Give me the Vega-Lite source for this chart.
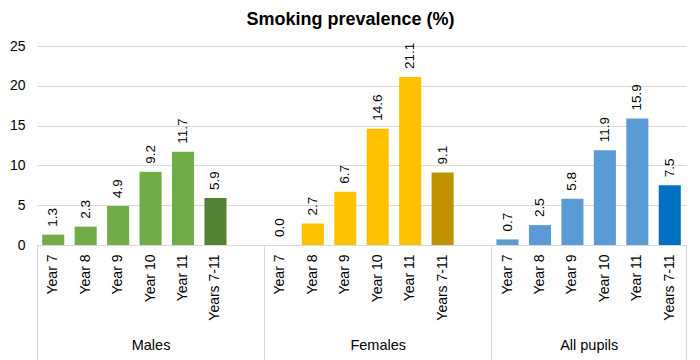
{
  "$schema": "https://vega.github.io/schema/vega-lite/v6.json",
  "autosize": {"type": "none"},
  "width": 649,
  "height": 199,
  "padding": {"left": 37, "top": 46, "right": 14, "bottom": 115},
  "background": "white",
  "config": {
    "view": {"stroke": null},
    "font": "Liberation Sans",
    "axis": {"labelFont": "Liberation Sans", "labelColor": "#000000"}
  },
  "title": {
    "text": "Smoking prevalence (%)",
    "fontSize": 18,
    "fontWeight": "bold",
    "font": "Liberation Sans",
    "color": "#000000",
    "anchor": "middle",
    "offset": 10,
    "dx": -11
  },
  "datasets": {
    "bars": [
      {"cat": "M|Year 7", "group": "Males", "kind": "Males", "value": 1.3},
      {"cat": "M|Year 8", "group": "Males", "kind": "Males", "value": 2.3},
      {"cat": "M|Year 9", "group": "Males", "kind": "Males", "value": 4.9},
      {"cat": "M|Year 10", "group": "Males", "kind": "Males", "value": 9.2},
      {"cat": "M|Year 11", "group": "Males", "kind": "Males", "value": 11.7},
      {"cat": "M|Years 7-11", "group": "Males", "kind": "Males total", "value": 5.9},
      {"cat": "F|Year 7", "group": "Females", "kind": "Females", "value": 0.0},
      {"cat": "F|Year 8", "group": "Females", "kind": "Females", "value": 2.7},
      {"cat": "F|Year 9", "group": "Females", "kind": "Females", "value": 6.7},
      {"cat": "F|Year 10", "group": "Females", "kind": "Females", "value": 14.6},
      {"cat": "F|Year 11", "group": "Females", "kind": "Females", "value": 21.1},
      {"cat": "F|Years 7-11", "group": "Females", "kind": "Females total", "value": 9.1},
      {"cat": "A|Year 7", "group": "All pupils", "kind": "All", "value": 0.7},
      {"cat": "A|Year 8", "group": "All pupils", "kind": "All", "value": 2.5},
      {"cat": "A|Year 9", "group": "All pupils", "kind": "All", "value": 5.8},
      {"cat": "A|Year 10", "group": "All pupils", "kind": "All", "value": 11.9},
      {"cat": "A|Year 11", "group": "All pupils", "kind": "All", "value": 15.9},
      {"cat": "A|Years 7-11", "group": "All pupils", "kind": "All total", "value": 7.5}
    ],
    "groups": [
      {"pos": 0}, {"pos": 3.5}, {"pos": 7}, {"pos": 10.5}, {"pos": 14}, {"pos": 17}, {"pos": 20}
    ]
  },
  "encoding": {
    "y": {
      "field": "value",
      "type": "quantitative",
      "scale": {"domain": [0, 25], "nice": false},
      "axis": {
        "title": null,
        "values": [0, 5, 10, 15, 20, 25],
        "labelOverlap": false,
        "domain": false,
        "ticks": false,
        "labelPadding": 12,
        "labelFontSize": 14,
        "gridColor": "#d9d9d9",
        "gridWidth": 1
      }
    }
  },
  "layer": [
    {
      "data": {"name": "bars"},
      "encoding": {
        "x": {
          "field": "cat",
          "type": "nominal",
          "sort": null,
          "scale": {
            "domain": ["M|Year 7", "M|Year 8", "M|Year 9", "M|Year 10", "M|Year 11", "M|Years 7-11", "gap1|",
                       "F|Year 7", "F|Year 8", "F|Year 9", "F|Year 10", "F|Year 11", "F|Years 7-11", "gap2|",
                       "A|Year 7", "A|Year 8", "A|Year 9", "A|Year 10", "A|Year 11", "A|Years 7-11"],
            "paddingInner": 0.32,
            "paddingOuter": 0.16
          },
          "axis": {
            "orient": "bottom",
            "title": null,
            "labelExpr": "split(datum.label, '|')[1]",
            "labelAngle": -90,
            "labelFontSize": 14,
            "labelPadding": 9,
            "ticks": false,
            "domainColor": "#d9d9d9",
            "domainWidth": 1,
            "grid": false
          }
        }
      },
      "layer": [
        {
          "mark": {"type": "bar"},
          "encoding": {
            "color": {
              "field": "kind",
              "type": "nominal",
              "scale": {
                "domain": ["Males", "Males total", "Females", "Females total", "All", "All total"],
                "range": ["#70AD47", "#548235", "#FFC000", "#BF9000", "#5B9BD5", "#0070C0"]
              },
              "legend": null
            }
          }
        },
        {
          "mark": {"type": "text", "angle": 270, "align": "left", "baseline": "middle", "dx": 8, "fontSize": 13.5, "color": "#000000"},
          "encoding": {
            "text": {"field": "value", "type": "quantitative", "format": ".1f"}
          }
        }
      ]
    },
    {
      "data": {"name": "groups"},
      "mark": {"type": "point", "opacity": 0},
      "encoding": {
        "x": {
          "field": "pos",
          "type": "quantitative",
          "scale": {"domain": [0, 20], "nice": false, "zero": false},
          "axis": {
            "orient": "bottom",
            "title": null,
            "values": [0, 3.5, 7, 10.5, 14, 17, 20],
            "labelExpr": "datum.value == 3.5 ? 'Males' : datum.value == 10.5 ? 'Females' : datum.value == 17 ? 'All pupils' : ''",
            "labelFontSize": 14.5,
            "labelAngle": 0,
            "labelPadding": -22,
            "labelFlush": false,
            "labelOverlap": false,
            "domain": false,
            "grid": false,
            "tickSize": 115,
            "tickColor": "#d9d9d9",
            "tickOpacity": {"condition": {"test": "datum.value == 3.5 || datum.value == 10.5 || datum.value == 17", "value": 0}, "value": 1}
          }
        },
        "y": {"datum": 0, "type": "quantitative"}
      }
    }
  ],
  "resolve": {"scale": {"x": "independent"}, "axis": {"x": "independent"}}
}
